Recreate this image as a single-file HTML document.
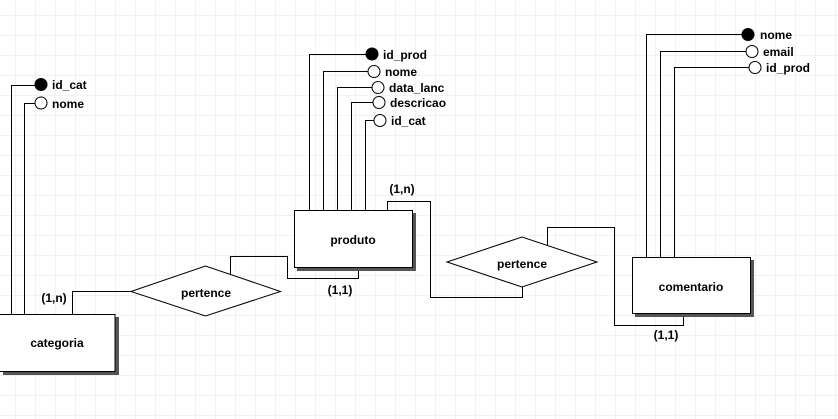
<!DOCTYPE html>
<html><head><meta charset="utf-8"><style>
html,body{margin:0;padding:0;background:#fff;}
svg{display:block;}
text{font-family:"Liberation Sans",Arial,sans-serif;font-weight:bold;font-size:12px;fill:#000;}
</style></head><body>
<svg width="838" height="419" viewBox="0 0 838 419" xmlns="http://www.w3.org/2000/svg">
<defs>
<pattern id="g" x="15.5" y="15.5" width="20" height="20" patternUnits="userSpaceOnUse">
<path d="M0 0H20M0 0V20" stroke="#e6e6e6" stroke-width="1" fill="none"/>
</pattern>
</defs>
<rect width="838" height="419" fill="#fff"/>
<rect width="838" height="419" fill="url(#g)"/>
<g stroke="#000" stroke-width="1" fill="none">
<!-- categoria attrs -->
<path d="M11.5 314V85.5H35"/>
<path d="M24.5 314V103.5H35"/>
<!-- categoria - pertence -->
<path d="M72.5 314V291.5H131"/>
<!-- pertence1 - produto -->
<path d="M230.5 274V256.5H287.5V278.5H358.5V268"/>
<!-- produto attrs -->
<path d="M309.5 210V54.5H366"/>
<path d="M323.5 210V71.5H368"/>
<path d="M337.5 210V87.5H372"/>
<path d="M351.5 210V102.5H373"/>
<path d="M365.5 210V120.5H374"/>
<!-- produto - pertence2 -->
<path d="M387.5 210V201.5H430.5V297.5H522.5V287"/>
<!-- pertence2 - comentario -->
<path d="M547.5 246V227.5H614.5V325.5H683.5V314"/>
<!-- comentario attrs -->
<path d="M646.5 257V34.5H742"/>
<path d="M660.5 257V51.5H746"/>
<path d="M674.5 257V67.5H749"/>
</g>
<!-- shadows -->
<g fill="#555">
<rect x="3" y="317" width="116" height="58"/>
<rect x="297" y="213" width="119" height="58"/>
<rect x="635" y="260" width="119" height="57"/>
</g>
<g fill="#fff" stroke="#000" stroke-width="1">
<rect x="-1" y="314.5" width="116" height="57"/>
<rect x="294.5" y="210.5" width="118" height="57"/>
<rect x="632.5" y="257.5" width="118" height="56"/>
<polygon points="131,291.5 205.5,266 280.5,291.5 205.5,316"/>
<polygon points="447,262 522,237 597,262 522,287"/>
</g>
<!-- attribute circles -->
<g stroke="#000" stroke-width="1">
<circle cx="41" cy="84.5" r="6" fill="#000"/>
<circle cx="41" cy="103" r="6" fill="#fff"/>
<circle cx="372" cy="54" r="6" fill="#000"/>
<circle cx="374" cy="71.5" r="6" fill="#fff"/>
<circle cx="378" cy="87.5" r="6" fill="#fff"/>
<circle cx="379" cy="102.5" r="6" fill="#fff"/>
<circle cx="380" cy="120.5" r="6" fill="#fff"/>
<circle cx="748" cy="34.5" r="6" fill="#000"/>
<circle cx="752" cy="51.5" r="6" fill="#fff"/>
<circle cx="755" cy="67.5" r="6" fill="#fff"/>
</g>
<text x="52" y="89">id_cat</text>
<text x="52" y="108">nome</text>
<text x="383" y="59">id_prod</text>
<text x="385" y="76">nome</text>
<text x="389" y="92">data_lanc</text>
<text x="390" y="107">descricao</text>
<text x="391" y="125">id_cat</text>
<text x="760" y="39">nome</text>
<text x="763" y="56">email</text>
<text x="766" y="72">id_prod</text>
<g text-anchor="middle">
<text x="57" y="347">categoria</text>
<text x="353" y="244">produto</text>
<text x="691" y="291">comentario</text>
<text x="206" y="297">pertence</text>
<text x="522" y="268">pertence</text>
<text x="54" y="302">(1,n)</text>
<text x="340" y="294">(1,1)</text>
<text x="402" y="193">(1,n)</text>
<text x="666" y="339">(1,1)</text>
</g>
</svg>
</body></html>
